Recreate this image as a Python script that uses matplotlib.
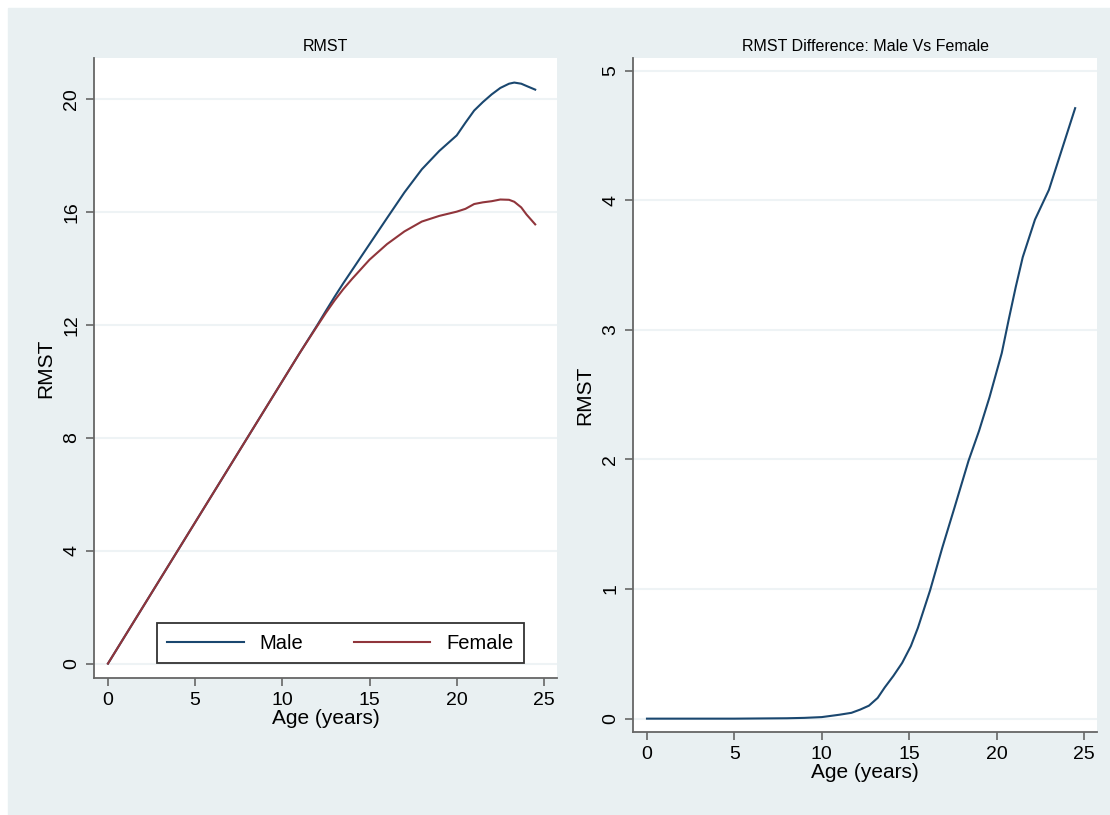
import matplotlib.pyplot as plt
from matplotlib.patches import Rectangle

plt.rcParams['font.family'] = ['Liberation Sans', 'DejaVu Sans']

# RMST by age
age = [0, 2, 4, 6, 8, 10, 11, 12, 12.5, 13, 13.5, 14, 15, 16, 17, 18, 19,
       20, 20.5, 21, 21.5, 22, 22.5, 23, 23.3, 23.7, 24, 24.5]
male = [0, 2, 4, 6, 8, 10, 11, 11.98, 12.49, 12.99, 13.47, 13.93, 14.85,
        15.77, 16.68, 17.5, 18.15, 18.7, 19.15, 19.58, 19.88, 20.15, 20.38,
        20.53, 20.57, 20.53, 20.45, 20.32]
female = [0, 2, 4, 6, 8, 10, 11, 11.95, 12.42, 12.86, 13.26, 13.62, 14.3,
          14.85, 15.3, 15.65, 15.85, 16.0, 16.1, 16.27, 16.33, 16.37, 16.43,
          16.42, 16.35, 16.15, 15.9, 15.55]

# RMST difference male - female
age_d = [0, 5, 8, 9, 10, 11, 11.7, 12.2, 12.7, 13.2, 13.6, 14.1, 14.6,
         15.1, 15.5, 16.2, 16.9, 17.6, 18.4, 19.0, 19.6, 20.3, 20.7, 21.1,
         21.5, 22.2, 23.0, 24.5]
diff = [0, 0, 0.003, 0.006, 0.012, 0.03, 0.045, 0.07, 0.10, 0.16, 0.24,
        0.33, 0.43, 0.56, 0.70, 0.99, 1.32, 1.63, 1.99, 2.22, 2.48, 2.82,
        3.08, 3.33, 3.56, 3.85, 4.08, 4.71]

navy = '#1a476f'
maroon = '#90353b'
bg = '#e9f0f2'
grid = '#eef3f5'
axcol = '#666666'

fig = plt.figure(figsize=(11.1, 8.15), dpi=100)
fig.patch.set_facecolor('white')
fig.patches.append(Rectangle((8 / 1110, 0), 1, 1 - 8 / 815,
                             transform=fig.transFigure, color=bg, zorder=-1))

W, H = 1110, 815
ax1 = fig.add_axes([94 / W, (H - 678) / H, 463 / W, 620 / H])
ax2 = fig.add_axes([633 / W, (H - 732) / H, 464 / W, 674 / H])


def style(ax, yticks, ylim):
    ax.set_facecolor('white')
    for s in ['top', 'right']:
        ax.spines[s].set_visible(False)
    for s in ['left', 'bottom']:
        ax.spines[s].set_color(axcol)
        ax.spines[s].set_linewidth(1.3)
    ax.set_xlim(-0.8, 25.75)
    ax.set_xticks([0, 5, 10, 15, 20, 25])
    ax.set_ylim(*ylim)
    ax.set_yticks(yticks)
    ax.yaxis.grid(True, color=grid, linewidth=1.5)
    ax.set_axisbelow(True)
    ax.tick_params(length=6, width=1.2, color=axcol, labelsize=14,
                   pad=4)
    ax.tick_params(axis='y', labelrotation=90)
    for lab in ax.get_yticklabels():
        lab.set_va('center')
    ax.set_xlabel('Age (years)', fontsize=15, labelpad=0)
    ax.set_ylabel('RMST', fontsize=15, labelpad=6)


ax1.plot(age, male, color=navy, lw=1.5, label='Male')
ax1.plot(age, female, color=maroon, lw=1.5, label='Female')
style(ax1, [0, 4, 8, 12, 16, 20], (-0.51, 21.44))
ax1.set_title('RMST', fontsize=11.5, pad=5)
leg = ax1.legend(loc='lower center', bbox_to_anchor=(0.532, 0.024), ncol=2,
                 fontsize=14.5, handlelength=3.8, handletextpad=0.8,
                 columnspacing=2.5, borderpad=0.52, borderaxespad=0,
                 fancybox=False, edgecolor='#333333', framealpha=1)
leg.get_frame().set_linewidth(1.3)

ax2.plot(age_d, diff, color=navy, lw=1.5)
style(ax2, [0, 1, 2, 3, 4, 5], (-0.103, 5.097))
ax2.set_title('RMST Difference: Male Vs Female', fontsize=11.5, pad=5)

fig.savefig('out.png', dpi=100)
